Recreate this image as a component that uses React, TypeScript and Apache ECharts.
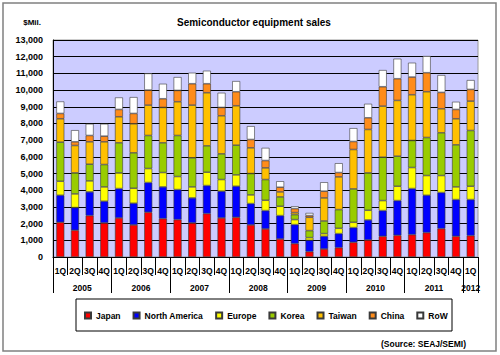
import React, { useEffect, useRef } from "react";
import * as echarts from "echarts";

const quarterLabels = [
  "1Q", "2Q", "3Q", "4Q", "1Q", "2Q", "3Q", "4Q", "1Q", "2Q", "3Q", "4Q",
  "1Q", "2Q", "3Q", "4Q", "1Q", "2Q", "3Q", "4Q", "1Q", "2Q", "3Q", "4Q",
  "1Q", "2Q", "3Q", "4Q", "1Q",
];
const years = ["2005", "2006", "2007", "2008", "2009", "2010", "2011", "2012"];
const quartersPerYear = [4, 4, 4, 4, 4, 4, 4, 1];

const japan = [2080, 1600, 2480, 2040, 2340, 1920, 2680, 2300, 2240, 2040, 2600, 2340, 2380, 1920, 1680, 1080, 800, 320, 480, 560, 880, 1020, 1240, 1300, 1340, 1460, 1700, 1240, 1280];
const northAmerica = [1620, 1360, 1420, 1300, 1760, 1300, 1780, 1900, 1800, 1500, 1680, 1600, 1860, 1280, 1100, 1400, 1140, 680, 760, 840, 880, 1200, 1540, 2080, 2760, 2240, 2160, 2200, 2160];
const europe = [840, 820, 660, 860, 940, 900, 840, 860, 780, 660, 800, 700, 680, 520, 620, 560, 300, 160, 160, 320, 320, 580, 600, 860, 1260, 1180, 1020, 760, 800];
const korea = [2340, 1260, 1000, 1340, 1800, 2120, 1980, 1780, 2460, 1740, 1580, 1540, 1780, 1280, 1240, 560, 300, 420, 760, 1120, 2000, 2240, 2600, 1800, 1620, 2280, 2560, 2520, 3340];
const taiwan = [1400, 1640, 1340, 1360, 1560, 1740, 1820, 2120, 2020, 3160, 3180, 2280, 2360, 1540, 700, 300, 120, 800, 1380, 1960, 2360, 2600, 3060, 3340, 2740, 2740, 1440, 1560, 1760];
const china = [320, 220, 380, 340, 440, 620, 900, 520, 680, 1280, 540, 500, 840, 500, 440, 280, 240, 100, 400, 260, 480, 700, 1160, 1300, 1060, 1140, 980, 560, 700];
const row = [720, 700, 700, 740, 720, 980, 1000, 900, 800, 660, 780, 880, 640, 800, 760, 360, 140, 160, 540, 560, 800, 840, 1000, 1200, 860, 1000, 1040, 460, 560];

const seriesNames = ["Japan", "North America", "Europe", "Korea", "Taiwan", "China", "RoW"];
const seriesData = [japan, northAmerica, europe, korea, taiwan, china, row];
const seriesColors = ["#ff0000", "#0000ff", "#ffff00", "#99cc00", "#ffc000", "#ff8c1a", "#ffffff"];

const FONT = "'Liberation Sans', Arial, sans-serif";

// Year axis: half-quarter resolution points (boundaryGap false), 0 .. 29 quarters
function buildYearAxis() {
  const total = quarterLabels.length * 2 + 1;
  const data: string[] = new Array(total).fill("");
  const ticks = new Set<number>();
  let start = 0;
  years.forEach((y, i) => {
    const n = quartersPerYear[i];
    data[start * 2 + n] = y;
    ticks.add(start * 2);
    start += n;
  });
  ticks.add(start * 2);
  return { data, ticks };
}

export default function App() {
  const ref = useRef<HTMLDivElement>(null);
  useEffect(() => {
    if (!ref.current) return;
    const chart = echarts.init(ref.current, null, { renderer: "svg" });
    const yearAxis = buildYearAxis();
    chart.setOption({
      animation: false,
      backgroundColor: "#ffffff",
      textStyle: { fontFamily: FONT },
      title: {
        text: "Semiconductor equipment sales",
        left: 177,
        top: 17,
        padding: 0,
        textStyle: { fontSize: 10, fontWeight: "bold", color: "#000", fontFamily: FONT },
      },
      grid: {
        left: 53,
        right: 22,
        top: 40,
        bottom: 98,
        show: true,
        backgroundColor: "#ccccff",
        borderColor: "#9a9a9a",
        borderWidth: 1,
      },
      legend: {
        data: seriesNames,
        left: 84,
        top: 311,
        padding: 0,
        itemGap: 12,
        itemWidth: 6,
        itemHeight: 6,
        icon: "rect",
        textStyle: { fontSize: 8.5, fontWeight: "bold", color: "#000", fontFamily: FONT },
      },
      xAxis: [
        {
          type: "category",
          data: quarterLabels,
          position: "bottom",
          axisLine: { show: true, lineStyle: { color: "#000", width: 1 } },
          axisTick: { show: true, interval: 0, length: 18, lineStyle: { color: "#000" } },
          axisLabel: { interval: 0, margin: 9, fontSize: 8.5, fontWeight: "bold", color: "#000", fontFamily: FONT },
          splitLine: { show: false },
        },
        {
          type: "category",
          data: yearAxis.data,
          boundaryGap: false,
          position: "bottom",
          offset: 0,
          axisLine: { show: false },
          axisTick: {
            show: true,
            length: 36,
            interval: (index: number) => yearAxis.ticks.has(index),
            lineStyle: { color: "#000" },
          },
          axisLabel: { interval: 0, margin: 26, fontSize: 8.5, fontWeight: "bold", color: "#000", fontFamily: FONT },
          splitLine: { show: false },
        },
      ],
      yAxis: {
        type: "value",
        min: 0,
        max: 13000,
        interval: 1000,
        name: "$Mil.",
        nameLocation: "end",
        nameGap: 14,
        nameTextStyle: { fontSize: 8, fontWeight: "bold", color: "#000", align: "right", padding: [0, 12, 0, 0], fontFamily: FONT },
        axisLine: { show: true, lineStyle: { color: "#000" } },
        axisTick: { show: false },
        axisLabel: {
          margin: 10,
          fontSize: 9,
          fontWeight: "bold",
          color: "#000",
          fontFamily: FONT,
          formatter: (v: number) => v.toLocaleString("en-US"),
        },
        splitLine: { show: true, lineStyle: { color: "#000", width: 1 } },
      },
      series: seriesNames.map((name, i) => ({
        name,
        type: "bar",
        stack: "total",
        xAxisIndex: 0,
        barWidth: 8,
        data: seriesData[i],
        itemStyle: { color: seriesColors[i], borderColor: "#3a3a3a", borderWidth: 0.6 },
      })),
      graphic: [
        {
          type: "rect",
          shape: { x: 3, y: 3, width: 493, height: 348 },
          style: { fill: "none", stroke: "#808080", lineWidth: 1.5 },
          silent: true,
          z: -1,
        },
        {
          type: "rect",
          shape: { x: 76, y: 299, width: 376, height: 32 },
          style: { fill: "#ffffff", stroke: "#000", lineWidth: 1 },
          silent: true,
          z: -1,
        },
        {
          type: "text",
          x: 466,
          y: 344,
          style: {
            text: "(Source: SEAJ/SEMI)",
            fontSize: 8.5,
            fontWeight: "bold",
            fill: "#000",
            align: "right",
            verticalAlign: "middle",
            fontFamily: FONT,
          },
        },
      ],
    });
    return () => chart.dispose();
  }, []);
  return (
    <div
      ref={ref}
      style={{ position: "fixed", left: 0, top: 0, width: 500, height: 355 }}
    />
  );
}
